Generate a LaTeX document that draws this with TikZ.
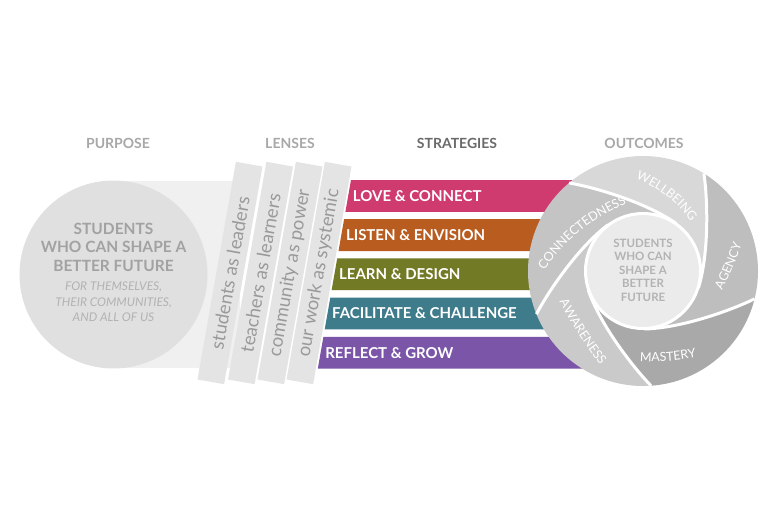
\documentclass[tikz,border=0pt]{standalone}
\usepackage{fontspec}
\setmainfont{Lato}
\usetikzlibrary{calc,decorations.text}
\definecolor{hdr}{HTML}{A8A8A8}
\definecolor{hdrdark}{HTML}{6A6A6A}
\definecolor{band}{HTML}{F0F0F0}
\definecolor{bigc}{HTML}{E0E0E0}
\definecolor{bigtxt}{HTML}{A2A2A2}
\definecolor{bigital}{HTML}{B2B2B2}
\definecolor{strip}{HTML}{E4E4E4}
\definecolor{striptxt}{HTML}{9A9A9A}
\definecolor{barA}{HTML}{CF3A6F}
\definecolor{barB}{HTML}{B85C20}
\definecolor{barC}{HTML}{737A25}
\definecolor{barD}{HTML}{3E7B8B}
\definecolor{barE}{HTML}{7A55A8}
\definecolor{wellc}{HTML}{D8D8D8}
\definecolor{agencyc}{HTML}{BEBEBE}
\definecolor{masteryc}{HTML}{A9A9A9}
\definecolor{awarec}{HTML}{CACACA}
\definecolor{connc}{HTML}{C4C4C4}
\definecolor{innerc}{HTML}{EBEBEB}
\definecolor{innertxt}{HTML}{B3B3B3}
\newcommand\curvlabel[6]{%
  \pgfmathsetmacro\cQx{#1+#4*cos(#3-90*#5)}%
  \pgfmathsetmacro\cQy{#2+#4*sin(#3-90*#5)}%
  \pgfmathsetmacro\cB{#3+90*#5}%
  \pgfmathsetmacro\cD{60/#4*57.2958}%
  \pgfmathsetmacro\cSa{\cB+#5*\cD}%
  \pgfmathsetmacro\cEa{\cB-#5*\cD}%
  {\fontsize{12.5}{14}\selectfont
  \path[decorate, decoration={text along path, text align=center, text color=white, text={#6}}]
    ($(\cQx,\cQy)+(\cSa:#4)$) arc[start angle=\cSa, end angle=\cEa, radius=#4pt];}
}
\begin{document}
\begin{tikzpicture}[x=1pt,y=1pt,
  hdrs/.style={font=\bfseries\fontsize{14}{16}\selectfont, text=hdr},
  lens/.style={fill=strip, minimum width=221pt, minimum height=27pt, inner sep=0pt,
    text=striptxt, font=\fontsize{18.5}{18.5}\selectfont, rotate=80},
  bartxt/.style={anchor=west, text=white, font=\bfseries\fontsize{15}{15}\selectfont, inner sep=0pt}]
\fill[white] (0,0) rectangle (780,-520);
\path[use as bounding box] (0,0) rectangle (780,-520);

% headers
\node[hdrs] (hPurpose) at (118,-143) {PURPOSE};
\node[hdrs] (hLenses) at (290,-143) {LENSES};
\node[hdrs, text=hdrdark] (hStrat) at (457,-143) {STRATEGIES};
\node[hdrs] (hOut) at (644,-143) {OUTCOMES};

% purpose
\fill[band] (113,-181) rectangle (240,-368);
\node[circle, fill=bigc, minimum size=188pt, inner sep=0pt] (purpose) at (113.5,-274.5) {};
\node[align=center, text=bigtxt, font=\bfseries\fontsize{15.5}{18.5}\selectfont, inner sep=0pt] (pTitle) at (113.5,-247) {STUDENTS\\WHO CAN SHAPE A\\BETTER FUTURE};
\node[align=center, text=bigital, font=\itshape\fontsize{12}{15.5}\selectfont, inner sep=0pt] (pSub) at (113.5,-302) {FOR THEMSELVES,\\THEIR COMMUNITIES,\\AND ALL OF US};

% lenses
\node[lens] (l1) at (230,-273) {students as leaders};
\node[lens] (l2) at (260.5,-273) {teachers as learners};
\node[lens] (l3) at (290,-273) {community as power};
\node[lens] (l4) at (319,-273) {our work as systemic};

% strategies
\foreach \i/\c/\t/\n in {0/barA/LOVE \& CONNECT/s1, 1/barB/LISTEN \& ENVISION/s2, 2/barC/LEARN \& DESIGN/s3, 3/barD/FACILITATE \& CHALLENGE/s4, 4/barE/REFLECT \& GROW/s5}{
  \pgfmathsetmacro\yt{180+39.2*\i}
  \pgfmathsetmacro\yb{\yt+31.8}
  \pgfmathsetmacro\ym{\yt+15.9}
  \pgfmathsetmacro\xt{351-0.176*(\yt-180)}
  \pgfmathsetmacro\xb{351-0.176*(\yb-180)}
  \pgfmathsetmacro\xm{351-0.176*(\ym-180)+4.5}
  \fill[\c] (\xt,-\yt) -- (600,-\yt) -- (600,-\yb) -- (\xb,-\yb) -- cycle;
  \node[bartxt] (\n) at (\xm,-\ym) {\t};
}

% outcomes
\begin{scope}[shift={(643,-271)}]
  \def\swp{75}
  \foreach \k in {0,...,4}{
    \pgfmathsetmacro\th{130-72*\k}
    \coordinate (P\k) at (\th:115);
    \coordinate (A\k) at ($(\th:115)+(\th-140:30)$);
    \coordinate (T\k) at (\th-\swp:58);
    \coordinate (B\k) at ($(\th-\swp:58)+(\th-\swp+90:35)$);
  }
  \foreach \k/\col in {0/wellc,1/agencyc,2/masteryc,3/awarec,4/connc}{
    \pgfmathsetmacro\th{130-72*\k}
    \pgfmathtruncatemacro\kn{mod(\k+1,5)}
    \pgfmathsetmacro\tn{\th-72-\swp}
    \fill[\col] (P\k) arc[start angle=\th, delta angle=-72, radius=115pt]
      .. controls (A\kn) and (B\kn) .. (T\kn)
      arc[start angle=\tn, delta angle=72, radius=58pt]
      .. controls (B\k) and (A\k) .. (P\k) -- cycle;
  }
  \foreach \k in {0,...,4}{
    \draw[white, line width=3pt] (P\k) .. controls (A\k) and (B\k) .. (T\k);
  }
  \node[circle, fill=innerc, draw=white, line width=3pt, minimum size=115pt, inner sep=0pt] (inner) at (0,0) {};
\end{scope}
\node[align=center, text=innertxt, font=\bfseries\fontsize{11.5}{13.5}\selectfont, inner sep=0pt] (innerTxt) at (643,-270) {STUDENTS\\WHO CAN\\SHAPE A\\BETTER\\FUTURE};

\curvlabel{666.6}{-196.2}{-37.5}{120}{1}{WELLBEING}
\curvlabel{580.5}{-231.1}{39}{180}{1}{CONNECTEDNESS}
\curvlabel{732.7}{-267.6}{67}{400}{-1}{AGENCY}
\curvlabel{668.3}{-361}{4}{200}{-1}{MASTERY}
\curvlabel{578.6}{-334.2}{-57}{500}{-1}{AWARENESS}
\end{tikzpicture}
\end{document}
